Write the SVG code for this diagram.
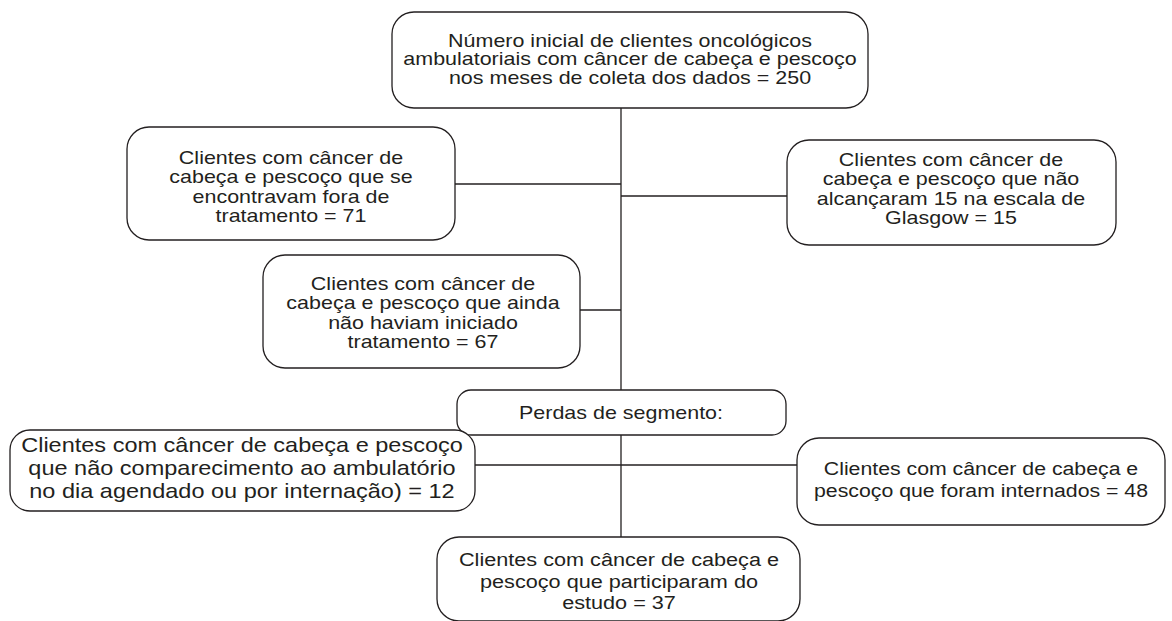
<svg xmlns="http://www.w3.org/2000/svg" width="1172" height="621" viewBox="0 0 1172 621">
<style>
.box{fill:#fff;stroke:#231f20;stroke-width:1.3}
.ln{stroke:#231f20;stroke-width:1.3;fill:none}
text{font-family:"Liberation Sans",Arial,sans-serif;font-size:19px;fill:#231f20;text-anchor:middle}
.big{font-size:21px}
</style>
<rect width="1172" height="621" fill="#fff"/>
<g id="connectors">
<line class="ln" x1="621" y1="108" x2="621" y2="390"/>
<line class="ln" x1="455" y1="184" x2="621" y2="184"/>
<line class="ln" x1="621" y1="196" x2="787" y2="196"/>
<line class="ln" x1="580" y1="310" x2="621" y2="310"/>
<line class="ln" x1="621" y1="435" x2="621" y2="537"/>
<line class="ln" x1="475" y1="465" x2="797" y2="465"/>
</g>
<g id="n1">
<rect class="box" x="392" y="12" width="476" height="96" rx="22"/>
<g transform="translate(630,0) scale(1.13,1)">
<text x="0" y="47">Número inicial de clientes oncológicos</text>
<text x="0" y="65.5">ambulatoriais com câncer de cabeça e pescoço</text>
<text x="0" y="84">nos meses de coleta dos dados = 250</text>
</g>
</g>
<g id="n2">
<rect class="box" x="127" y="127" width="328" height="113" rx="22"/>
<g transform="translate(291,0) scale(1.13,1)">
<text x="0" y="164">Clientes com câncer de</text>
<text x="0" y="183.5">cabeça e pescoço que se</text>
<text x="0" y="203">encontravam fora de</text>
<text x="0" y="222.5">tratamento = 71</text>
</g>
</g>
<g id="n3">
<rect class="box" x="787" y="140" width="329" height="105" rx="22"/>
<g transform="translate(951,0) scale(1.13,1)">
<text x="0" y="166">Clientes com câncer de</text>
<text x="0" y="185.5">cabeça e pescoço que não</text>
<text x="0" y="205">alcançaram 15 na escala de</text>
<text x="0" y="224.5">Glasgow = 15</text>
</g>
</g>
<g id="n4">
<rect class="box" x="263" y="255" width="317" height="113" rx="22"/>
<g transform="translate(423,0) scale(1.13,1)">
<text x="0" y="290">Clientes com câncer de</text>
<text x="0" y="309.5">cabeça e pescoço que ainda</text>
<text x="0" y="329">não haviam iniciado</text>
<text x="0" y="348.5">tratamento = 67</text>
</g>
</g>
<g id="n5">
<rect class="box" x="457" y="390" width="329" height="45" rx="14"/>
<g transform="translate(621,0) scale(1.13,1)">
<text x="0" y="419">Perdas de segmento:</text>
</g>
</g>
<g id="n6">
<rect class="box" x="10" y="430" width="465" height="81" rx="20"/>
<g transform="translate(242,0) scale(1.12,1)">
<text class="big" x="0" y="452">Clientes com câncer de cabeça e pescoço</text>
<text class="big" x="0" y="475">que não comparecimento ao ambulatório</text>
<text class="big" x="0" y="498">no dia agendado ou por internação) = 12</text>
</g>
</g>
<g id="n7">
<rect class="box" x="797" y="438" width="368" height="87" rx="22"/>
<g transform="translate(981,0) scale(1.12,1)">
<text x="0" y="475">Clientes com câncer de cabeça e</text>
<text x="0" y="497">pescoço que foram internados = 48</text>
</g>
</g>
<g id="n8">
<rect class="box" x="437" y="537" width="363" height="84" rx="22"/>
<g transform="translate(619,0) scale(1.14,1)">
<text x="0" y="566">Clientes com câncer de cabeça e</text>
<text x="0" y="587.5">pescoço que participaram do</text>
<text x="0" y="609">estudo = 37</text>
</g>
</g>
</svg>
